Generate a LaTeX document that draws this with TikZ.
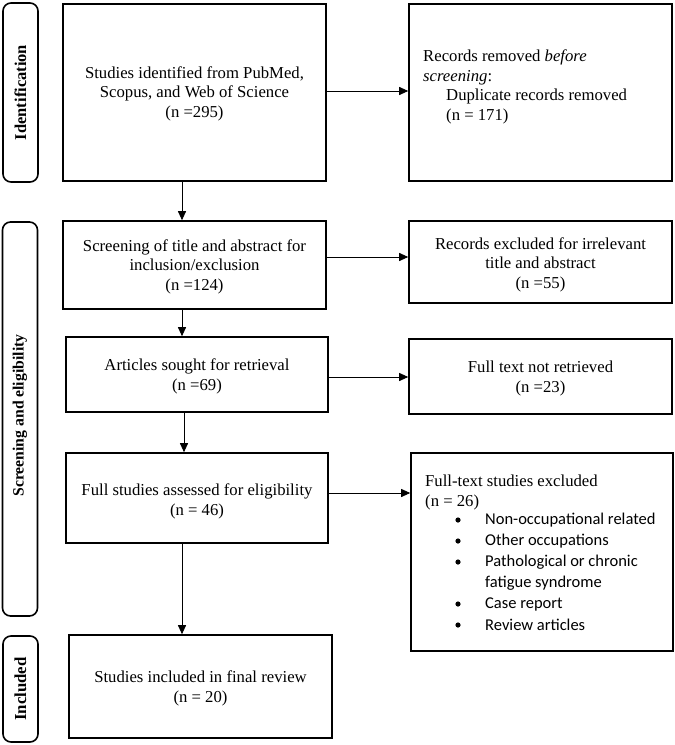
\documentclass[tikz,border=0pt]{standalone}
\usepackage{fontspec}
\setmainfont{Liberation Serif}
\newfontfamily\calfont{Carlito}
\usetikzlibrary{arrows.meta,calc}
\tikzset{
  mainbox/.style={draw, line width=1.6pt, inner sep=0pt, minimum width=#1},
  mainbox/.default=263pt,
  labelbox/.style={draw, line width=1.6pt, rounded corners=8pt, inner sep=0pt, minimum width=35pt},
  labeltext/.style={rotate=90, font=\fontsize{#1}{19}\selectfont\bfseries},
  labeltext/.default=16.5,
  txt/.style={align=center, font=\fontsize{16.7}{19.5}\selectfont, inner sep=0pt},
  arr/.style={line width=0.9pt, -{Triangle[length=9pt,width=8pt]}},
}
\begin{document}
\begin{tikzpicture}[x=1pt,y=-1pt]
\useasboundingbox (0,0) rectangle (675,745);
% side labels
\node[labelbox, minimum height=179pt] (lid) at (20.5,92.5) {};
\node[labeltext] (tid) at (lid.center) {Identification};
\node[labelbox, minimum height=394pt] (lse) at (20,419) {};
\node[labeltext=15.7] (tse) at (20,415.5) {Screening and eligibility};
\node[labelbox, minimum height=106pt] (lin) at (20.5,689) {};
\node[labeltext=16.8] (tin) at (lin.center) {Included};
% main boxes
\node[mainbox, minimum height=177pt] (b1) at (194.5,92.5) {};
\node[txt] at (194.5,93.5) {Studies identified from PubMed,\\Scopus, and Web of Science\\(n =295)};
\node[mainbox, minimum height=88pt] (b2) at (194.5,265) {};
\node[txt] at (194.5,266.5) {Screening of title and abstract for\\inclusion/exclusion\\(n =124)};
\node[mainbox=262pt, minimum height=75pt] (b3) at (197,374.5) {};
\node[txt] at (197,376.5) {Articles sought for retrieval\\(n =69)};
\node[mainbox=262pt, minimum height=90pt] (b4) at (197,498) {};
\node[txt] at (197,501.5) {Full studies assessed for eligibility\\(n = 46)};
\node[mainbox, minimum height=103pt] (b5) at (200.5,686.5) {};
\node[txt] at (200.5,688.5) {Studies included in final review\\(n = 20)};
% right boxes
\node[mainbox, minimum height=177pt] (r1) at (540.5,92.5) {};
\node[txt, align=left, anchor=north west] at (423,50) {Records removed \textit{before}\\\textit{screening}:\\\hspace*{23pt}Duplicate records removed\\\hspace*{23pt}(n = 171)};
\node[mainbox, minimum height=82pt] (r2) at (540.5,262) {};
\node[txt] at (540.5,264.5) {Records excluded for irrelevant\\title and abstract\\(n =55)};
\node[mainbox, minimum height=75pt] (r3) at (540.5,376.5) {};
\node[txt] at (540.5,378.5) {Full text not retrieved\\(n =23)};
\node[mainbox=262pt, minimum height=198pt] (r4) at (542,552) {};
\node[txt, align=left, anchor=north west] at (425,475) {Full-text studies excluded\\(n = 26)};
\begin{scope}[every node/.style={anchor=west, inner sep=0pt, font=\calfont\fontsize{16.5}{19}\selectfont}]
\foreach \y/\t in {520/Non-occupational related, 541/Other occupations, 562/Pathological or chronic, 604/Case report, 625/Review articles}{
  \fill (458,\y) circle (2.6pt);
  \node at (485,\y) {\t};
}
\node at (485,583) {fatigue syndrome};
\end{scope}
% arrows
\draw[arr] (b1.east |- 0,91) -- (r1.west |- 0,91);
\draw[arr] (b2.east |- 0,257) -- (r2.west |- 0,257);
\draw[arr] (b3.east |- 0,377) -- (r3.west |- 0,377);
\draw[arr] (b4.east |- 0,493) -- (r4.west |- 0,493);
\draw[arr] (b1.south -| 182,0) -- (b2.north -| 182,0);
\draw[arr] (b2.south -| 182,0) -- (b3.north -| 182,0);
\draw[arr] (b3.south -| 184,0) -- (b4.north -| 184,0);
\draw[arr] (b4.south -| 182,0) -- (b5.north -| 182,0);
\end{tikzpicture}
\end{document}
